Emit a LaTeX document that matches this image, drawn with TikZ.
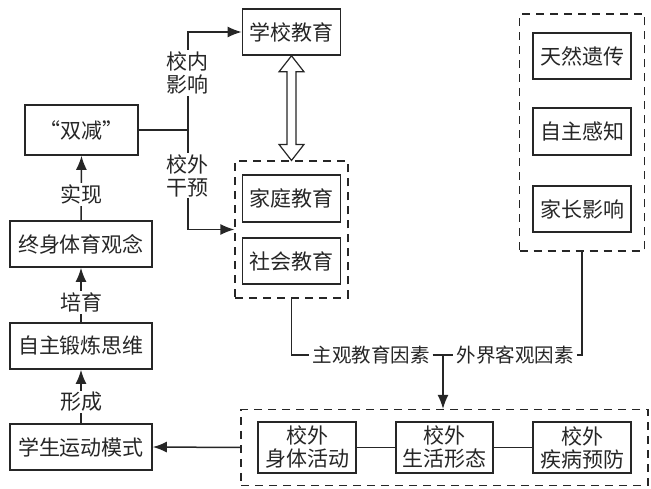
\documentclass[tikz,border=0pt]{standalone}
\usepackage{fontspec}
\setmainfont{Noto Sans CJK SC}
\usetikzlibrary{arrows.meta, calc, fit}

\begin{document}
\begin{tikzpicture}[
    x=1pt, y=-1pt,
    every node/.style={font=\fontsize{21}{23}\selectfont, text=black!85},
    box/.style={draw=black!85, line width=1.6pt, minimum width=98pt, minimum height=46pt, inner sep=0pt, align=center},
    grp/.style={draw=black!85, line width=1.5pt, dash pattern=on 8pt off 6pt},
    lbl/.style={fill=white, inner sep=1.5pt, align=center},
    factor/.style={fill=white, inner xsep=3pt, inner ysep=2pt, font=\fontsize{19.5}{22}\selectfont},
    link/.style={draw=black!85, line width=1.5pt},
    arr/.style={link, -{Latex[length=14pt, width=11pt]}},
]
\useasboundingbox (0,0) rectangle (651,489);

\node[box] (school) at (291.5,32) {学校教育};
\node[box, minimum width=113pt, minimum height=50pt] (dbl) at (81.5,130) {“双减”};
\node[box, minimum height=47pt] (home) at (291.5,198.5) {家庭教育};
\node[box] (soc) at (291.5,261) {社会教育};
\node[grp, fit=(home)(soc), inner xsep=6.5pt, inner ysep=13pt] (homegrp) {};

\node[box, minimum width=142pt] (life) at (81,244) {终身体育观念};
\node[box, minimum width=142pt] (self) at (81,346) {自主锻炼思维};
\node[box, minimum width=142pt] (mode) at (81,447) {学生运动模式};

\node[box] (gene) at (582,56) {天然遗传};
\node[box, minimum height=47pt] (sense) at (582,131.5) {自主感知};
\node[box] (parent) at (582,209) {家长影响};
\node[grp, fit=(gene)(parent), inner xsep=12.5pt, inner ysep=18pt] (natgrp) {};

\node[box, minimum height=51pt] (act) at (307,447.5) {校外\\身体活动};
\node[box, minimum width=97pt, minimum height=51pt] (form) at (444.5,447.5) {校外\\生活形态};
\node[box, minimum height=51pt] (prev) at (582,447.5) {校外\\疾病预防};
\node[grp, fit=(act)(prev), inner xsep=16pt, inner ysep=11.5pt] (outgrp) {};

\draw[link, line width=1.2pt, fill=white] (school.south) -- ++(12.5,16) -- ++(-8,0)
   -- ($(homegrp.north)+(4.5,-16)$) -- ++(8,0) -- (homegrp.north) -- ++(-12.5,-16) -- ++(8,0)
   -- ($(school.south)+(-4.5,16)$) -- ++(-8,0) -- cycle;

\coordinate (j) at ($(dbl.east)+(49,0)$);
\draw[link] (dbl.east) -- (j);
\draw[arr] (j) |- node[lbl, pos=.29] (inlbl) {校内\\影响} (school.west);
\draw[arr] (j) |- node[lbl, pos=.23] (outlbl) {校外\\干预} (homegrp.west);

\draw[arr] (life.north) -- node[lbl, pos=.4] (lbla) {实现} (dbl.south);
\draw[arr] (self.north) -- node[lbl, pos=.36] (lblb) {培育} (life.south);
\draw[arr] (mode.north) -- node[lbl, pos=.4] (lblc) {形成} (self.south);

\draw[arr] (outgrp.west) -- (mode.east);
\draw[link] (act) -- (form) -- (prev);

\node[factor] (subj) at (371,355) {主观教育因素};
\node[factor] (obj) at (515,355) {外界客观因素};
\draw[link] (homegrp.south) |- (subj.west);
\draw[link] (natgrp.south) |- (obj.east);
\draw[link] (subj.east) -- (obj.west);
\coordinate (m) at ($(subj.east)!.5!(obj.west)$);
\draw[arr] (m) -- (m |- outgrp.north);
\end{tikzpicture}
\end{document}
